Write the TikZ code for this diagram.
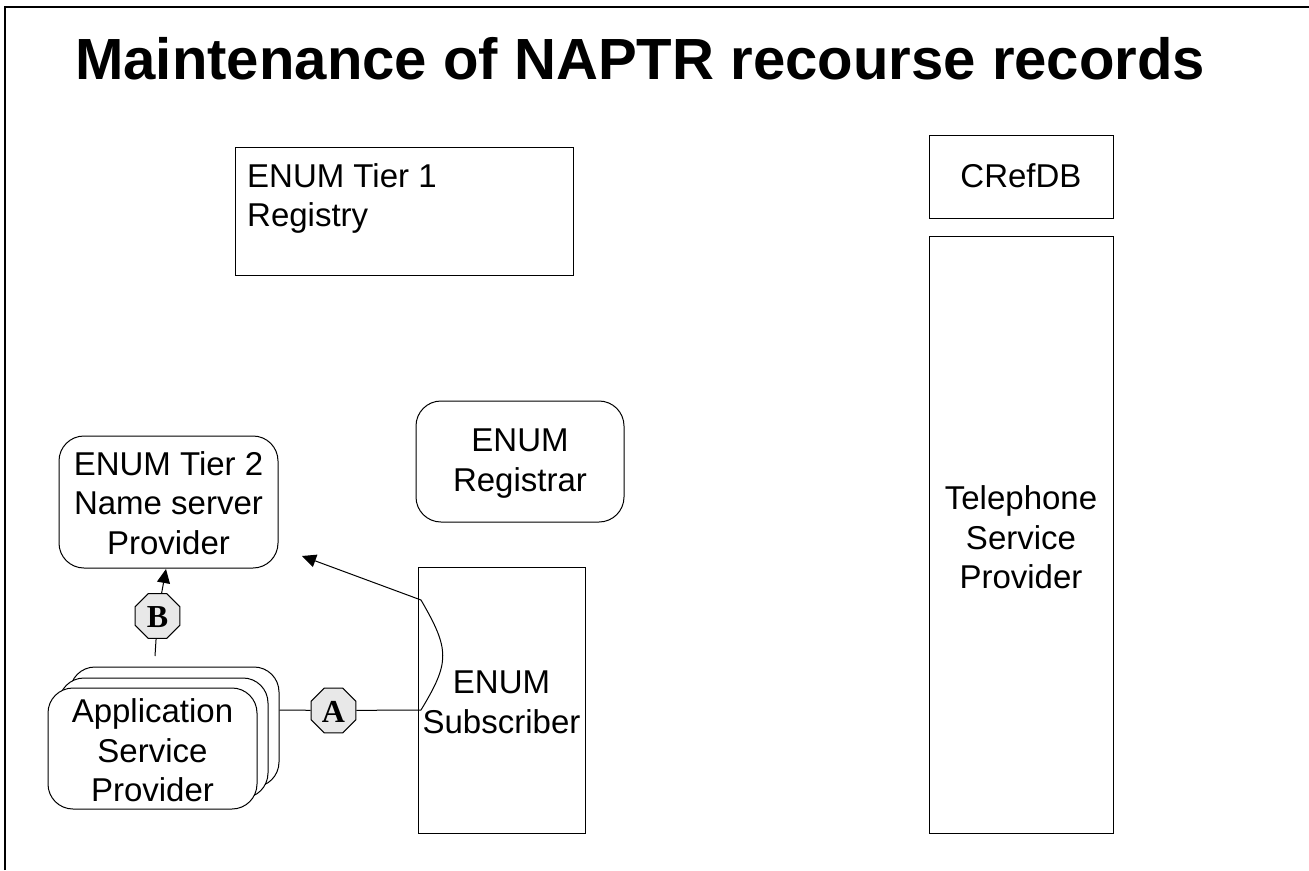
\documentclass[tikz,border=0pt]{standalone}
\usepackage{fontspec}
\setmainfont{Liberation Sans}
\newfontfamily\serifb{Liberation Serif}
\usetikzlibrary{shapes.geometric,arrows.meta,calc}
\newcommand{\low}[2]{\raisebox{#1}[\height][\depth]{#2}}
\newcommand{\lines}[2]{\low{#1}{\begin{tabular}{@{}c@{}}#2\end{tabular}}}
\tikzset{
  x=1pt,y=-1pt,
  base/.style={draw=black,line width=1pt,fill=white,inner sep=0pt,font=\fontsize{33}{39.5}\selectfont},
  sqbox/.style={base,rectangle},
  rbox/.style={base,rectangle,rounded corners=25pt},
  tag/.style={draw=black,line width=1pt,fill=black!9,regular polygon,regular polygon sides=8,minimum size=48.4pt,inner sep=0pt,font=\serifb\bfseries\fontsize{32}{32}\selectfont},
  conn/.style={draw=black,line width=1pt},
  head/.style={-{Triangle[length=14pt,width=13pt]}}
}
\begin{document}
\begin{tikzpicture}
\useasboundingbox (0,0) rectangle (1309,870);
\draw[line width=2pt] (5,870) -- (5,6.5) -- (1309,6.5);
\node[anchor=base west,inner sep=0pt,font=\bfseries\fontsize{58.1}{60}\selectfont] (title) at (75,79) {Maintenance of NAPTR recourse records};
\node[sqbox,minimum width=338pt,minimum height=128pt] (tier1) at (404,211) {};
\node[anchor=north west,inner sep=0pt,align=left,font=\fontsize{33}{39.5}\selectfont] (tier1t) at (247,163) {ENUM Tier 1\\Registry};
\node[sqbox,minimum width=184pt,minimum height=83pt] (cref) at (1021,176.5) {\lines{-3pt}{CRefDB}};
\node[sqbox,minimum width=184pt,minimum height=597pt] (tel) at (1021,534.5) {\lines{-7pt}{Telephone\\Service\\Provider}};
\node[rbox,minimum width=208pt,minimum height=121pt] (registrar) at (520,461.5) {\lines{-2pt}{ENUM\\Registrar}};
\node[rbox,minimum width=219pt,minimum height=132pt] (tier2) at (168.5,502) {\lines{-5pt}{ENUM Tier 2\\Name server\\Provider}};
\node[sqbox,minimum width=167pt,minimum height=266pt] (sub) at (501.5,700) {\lines{-5.5pt}{ENUM\\Subscriber}};
\node[rbox,minimum width=209pt,minimum height=120pt] (aspc) at (174.5,727) {};
\node[rbox,minimum width=209pt,minimum height=120pt] (aspb) at (163.5,738) {};
\node[rbox,minimum width=209pt,minimum height=121pt] (aspa) at (152.5,748.5) {\lines{-6pt}{Application\\Service\\Provider}};
\node[tag] (A) at (333.5,710.5) {\low{-1pt}{A}};
\node[tag] (B) at (157.5,616) {\low{-1pt}{B}};
\coordinate (bstart) at (155,656);
\coordinate (bend) at (166,569);
\coordinate (c1) at (421,710);
\coordinate (c2) at (421,600);
\coordinate (tip) at (302,556);
\draw[conn] (aspc.east |- c1) -- (A);
\draw[conn] (A) -- (sub.west |- c1) -- (c1);
\draw[conn] (bstart) -- (B);
\draw[conn,head] (B) -- (bend);
\draw[conn,head] (c1) .. controls (450,662) and (450,650) .. (c2) -- (tip);
\end{tikzpicture}
\end{document}
